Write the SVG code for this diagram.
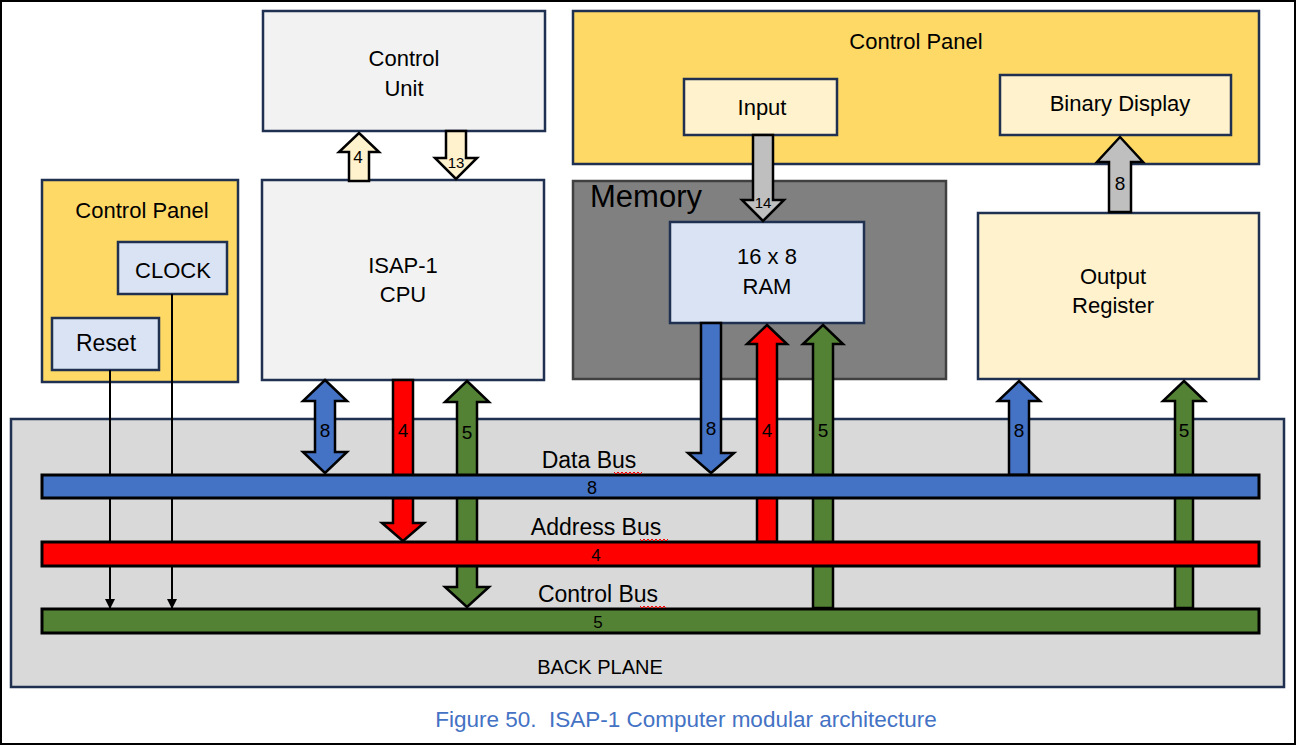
<svg xmlns="http://www.w3.org/2000/svg" width="1297" height="746" viewBox="0 0 1297 746">
<defs>
<style>
.t{font-family:"Liberation Sans",Arial,sans-serif;fill:#000;text-anchor:middle}
.box{stroke:#1f3050;stroke-width:2.5}
.arr{stroke:#000;stroke-width:2.5;stroke-linejoin:miter}
.bus{stroke:#000;stroke-width:3}
.n{font-size:19px}
.sq{fill:none;stroke:#ff0000;stroke-width:1}
</style>
<marker id="ah" viewBox="0 0 10 10" refX="10" refY="5" markerWidth="10" markerHeight="10" markerUnits="userSpaceOnUse" orient="auto">
<path d="M0,0 L10,5 L0,10 Z" fill="#000"/>
</marker>
</defs>
<rect x="0" y="0" width="1297" height="746" fill="#fff"/>
<rect x="1" y="1" width="1294" height="743" fill="none" stroke="#000" stroke-width="2"/>

<g id="backplane">
<rect x="11" y="419" width="1273" height="268" fill="#d9d9d9" class="box"/>
<text class="t" x="600" y="674" font-size="20">BACK PLANE</text>
</g>

<g id="control-unit">
<rect x="263" y="11" width="282" height="120" fill="#f2f2f2" class="box"/>
<text class="t" x="404" y="66" font-size="22">Control</text>
<text class="t" x="404" y="96" font-size="22">Unit</text>
</g>

<g id="cpu">
<rect x="262" y="180" width="282" height="200" fill="#f2f2f2" class="box"/>
<text class="t" x="403" y="273" font-size="22">ISAP-1</text>
<text class="t" x="403" y="302" font-size="22">CPU</text>
</g>

<g id="control-panel-left">
<rect x="42" y="180" width="196" height="202" fill="#ffd966" class="box"/>
<text class="t" x="142" y="218" font-size="22">Control Panel</text>
</g>
<g id="clock">
<rect x="118" y="242" width="109" height="52" fill="#dae3f3" class="box"/>
<text class="t" x="173" y="278" font-size="22">CLOCK</text>
</g>
<g id="reset">
<rect x="52" y="318" width="107" height="52" fill="#dae3f3" class="box"/>
<text class="t" x="106" y="351" font-size="23">Reset</text>
</g>

<g id="control-panel-top">
<rect x="573" y="11" width="686" height="153" fill="#ffd966" class="box"/>
<text class="t" x="916" y="49" font-size="22">Control Panel</text>
</g>
<g id="input">
<rect x="684" y="79" width="153" height="56" fill="#fff2cc" class="box"/>
<text class="t" x="762" y="115" font-size="22">Input</text>
</g>
<g id="binary-display">
<rect x="1000" y="75" width="231" height="60" fill="#fff2cc" class="box"/>
<text class="t" x="1120" y="111" font-size="22">Binary Display</text>
</g>

<g id="memory">
<rect x="573" y="181" width="373" height="198" fill="#808080" stroke="#404040" stroke-width="2.5"/>
<text class="t" x="590" y="207" font-size="31" style="text-anchor:start">Memory</text>
</g>
<g id="ram">
<rect x="670" y="222" width="194" height="101" fill="#dae3f3" class="box"/>
<text class="t" x="767" y="264" font-size="22">16 x 8</text>
<text class="t" x="767" y="294" font-size="22">RAM</text>
</g>

<g id="output-register">
<rect x="978" y="213" width="281" height="166" fill="#fff2cc" class="box"/>
<text class="t" x="1113" y="284" font-size="22">Output</text>
<text class="t" x="1113" y="313" font-size="22">Register</text>
</g>

<g id="connectors">
<line x1="110" y1="370" x2="110" y2="609" stroke="#000" stroke-width="2" marker-end="url(#ah)"/>
<line x1="172" y1="294" x2="172" y2="609" stroke="#000" stroke-width="2" marker-end="url(#ah)"/>
<polygon class="arr" fill="#fff2cc" points="359,133 379,152 369,152 369,181 349,181 349,152 339,152"/>
<polygon class="arr" fill="#fff2cc" points="446,131 466,131 466,158 477,158 456,179 435,158 446,158"/>
<polygon class="arr" fill="#bfbfbf" points="753,135 773,135 773,200 784,200 763,221 742,200 753,200"/>
<polygon class="arr" fill="#bfbfbf" points="1120,137 1143,162 1131,162 1131,212 1109,212 1109,162 1097,162"/>
<polygon class="arr" fill="#4472c4" points="325,380 347,401 335,401 335,452 347,452 325,473 303,452 315,452 315,401 303,401"/>
<polygon class="arr" fill="#ff0000" points="393,380 413,380 413,523 424,523 403,541 382,523 393,523"/>
<polygon class="arr" fill="#548235" points="467,381 489,402 477,402 477,587 489,587 467,607 445,587 457,587 457,402 445,402"/>
<polygon class="arr" fill="#4472c4" points="701,323 721,323 721,453 734,453 711,473 688,453 701,453"/>
<polygon class="arr" fill="#ff0000" points="767,325 787,344 777,344 777,542 757,542 757,344 747,344"/>
<polygon class="arr" fill="#548235" points="823,325 843,344 833,344 833,608 813,608 813,344 803,344"/>
<polygon class="arr" fill="#4472c4" points="1019,381 1040,401 1029,401 1029,475 1009,475 1009,401 998,401"/>
<polygon class="arr" fill="#548235" points="1184,381 1205,401 1193,401 1193,608 1175,608 1175,401 1163,401"/>
<text class="t" x="358" y="163" font-size="17">4</text>
<text class="t" x="456" y="168" font-size="15">13</text>
<text class="t" x="763" y="208" font-size="15">14</text>
<text class="t n" x="1120" y="190">8</text>
<text class="t n" x="325" y="437">8</text>
<text class="t n" x="403" y="437">4</text>
<text class="t n" x="467" y="439">5</text>
<text class="t n" x="711" y="435">8</text>
<text class="t n" x="767" y="437">4</text>
<text class="t n" x="823" y="437">5</text>
<text class="t n" x="1019" y="437">8</text>
<text class="t n" x="1184" y="437">5</text>
</g>

<g id="data-bus">
<rect x="42" y="475" width="1217" height="23" fill="#4472c4" class="bus"/>
<text class="t" x="589" y="468" font-size="23">Data Bus</text>
<polyline class="sq" points="614,472 616,474 618,472 620,474 622,472 624,474 626,472 628,474 630,472 632,474 634,472 636,474 638,472 640,474 642,472"/>
<text class="t" x="592" y="494" font-size="18">8</text>
</g>
<g id="address-bus">
<rect x="42" y="542" width="1217" height="24" fill="#ff0000" class="bus"/>
<text class="t" x="596" y="535" font-size="23">Address Bus</text>
<polyline class="sq" points="640,539 642,541 644,539 646,541 648,539 650,541 652,539 654,541 656,539 658,541 660,539 662,541 664,539 666,541 668,539"/>
<text class="t" x="596" y="561" font-size="17">4</text>
</g>
<g id="control-bus">
<rect x="42" y="609" width="1217" height="24" fill="#548235" class="bus"/>
<text class="t" x="598" y="602" font-size="23">Control Bus</text>
<polyline class="sq" points="640,606 642,608 644,606 646,608 648,606 650,608 652,606 654,608 656,606 658,608 660,606 662,608 664,606 666,608"/>
<text class="t" x="598" y="628" font-size="17">5</text>
</g>

<g id="caption">
<text class="t" x="686" y="727" font-size="22.5" style="fill:#4472c4;white-space:pre" xml:space="preserve">Figure 50.  ISAP-1 Computer modular architecture</text>
</g>
</svg>
